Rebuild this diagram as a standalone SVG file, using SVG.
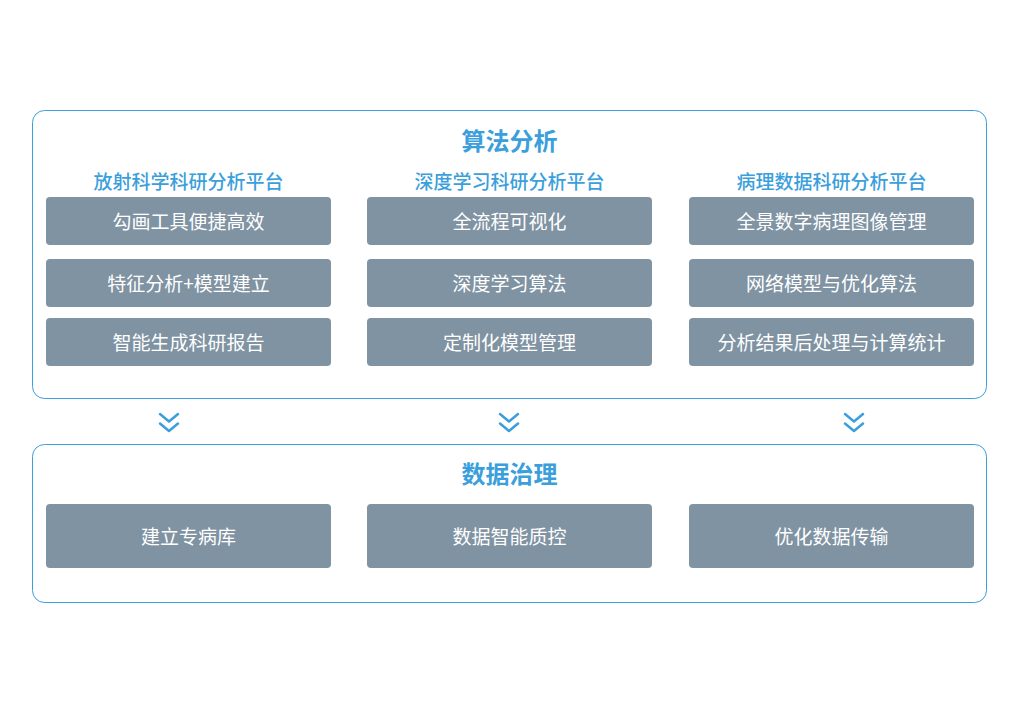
<svg xmlns="http://www.w3.org/2000/svg" width="1019" height="714" viewBox="0 0 1019 714">
<style>
.frame{fill:#fff;stroke:#3b9fdc;stroke-width:1}
.box{fill:#7f93a3}
.bt{font-family:"Noto Sans CJK SC","Noto Sans",sans-serif;font-size:19px;fill:#fff;text-anchor:middle;dominant-baseline:central}
.title{font-family:"Noto Sans CJK SC","Noto Sans",sans-serif;font-size:24px;font-weight:bold;fill:#3b9fdc;text-anchor:middle;dominant-baseline:central}
.sub{font-family:"Noto Sans CJK SC","Noto Sans",sans-serif;font-size:19px;font-weight:500;fill:#3b9fdc;text-anchor:middle;dominant-baseline:central}
.chev{fill:none;stroke:#3b9fdc;stroke-width:2.5;stroke-linecap:round;stroke-linejoin:round}
</style>
<rect width="1019" height="714" fill="#fff"/>
<g id="algo">
<rect class="frame" x="32.5" y="110.5" width="954" height="288" rx="12"/>
<text class="title" x="509.5" y="139">算法分析</text>
<text class="sub" x="188.5" y="180">放射科学科研分析平台</text>
<text class="sub" x="509.5" y="180">深度学习科研分析平台</text>
<text class="sub" x="831.5" y="180">病理数据科研分析平台</text>
</g>
<g id="n1"><rect class="box" x="46" y="197" width="285" height="48" rx="4"/><text class="bt" x="188.5" y="220">勾画工具便捷高效</text></g>
<g id="n2"><rect class="box" x="46" y="259" width="285" height="48" rx="4"/><text class="bt" x="188.5" y="282">特征分析+模型建立</text></g>
<g id="n3"><rect class="box" x="46" y="318" width="285" height="48" rx="4"/><text class="bt" x="188.5" y="341">智能生成科研报告</text></g>
<g id="n4"><rect class="box" x="367" y="197" width="285" height="48" rx="4"/><text class="bt" x="509.5" y="220">全流程可视化</text></g>
<g id="n5"><rect class="box" x="367" y="259" width="285" height="48" rx="4"/><text class="bt" x="509.5" y="282">深度学习算法</text></g>
<g id="n6"><rect class="box" x="367" y="318" width="285" height="48" rx="4"/><text class="bt" x="509.5" y="341">定制化模型管理</text></g>
<g id="n7"><rect class="box" x="689" y="197" width="285" height="48" rx="4"/><text class="bt" x="831.5" y="220">全景数字病理图像管理</text></g>
<g id="n8"><rect class="box" x="689" y="259" width="285" height="48" rx="4"/><text class="bt" x="831.5" y="282">网络模型与优化算法</text></g>
<g id="n9"><rect class="box" x="689" y="318" width="285" height="48" rx="4"/><text class="bt" x="831.5" y="341">分析结果后处理与计算统计</text></g>
<g id="connectors">
<path class="chev" d="M160,414 L169,421.5 L178,414 M160,423.5 L169,431 L178,423.5"/>
<path class="chev" d="M500,414 L509,421.5 L518,414 M500,423.5 L509,431 L518,423.5"/>
<path class="chev" d="M845,414 L854,421.5 L863,414 M845,423.5 L854,431 L863,423.5"/>
</g>
<g id="gov">
<rect class="frame" x="32.5" y="444.5" width="954" height="158" rx="12"/>
<text class="title" x="509.5" y="472">数据治理</text>
</g>
<g id="m1"><rect class="box" x="46" y="504" width="285" height="64" rx="4"/><text class="bt" x="188.5" y="535">建立专病库</text></g>
<g id="m2"><rect class="box" x="367" y="504" width="285" height="64" rx="4"/><text class="bt" x="509.5" y="535">数据智能质控</text></g>
<g id="m3"><rect class="box" x="689" y="504" width="285" height="64" rx="4"/><text class="bt" x="831.5" y="535">优化数据传输</text></g>
</svg>
